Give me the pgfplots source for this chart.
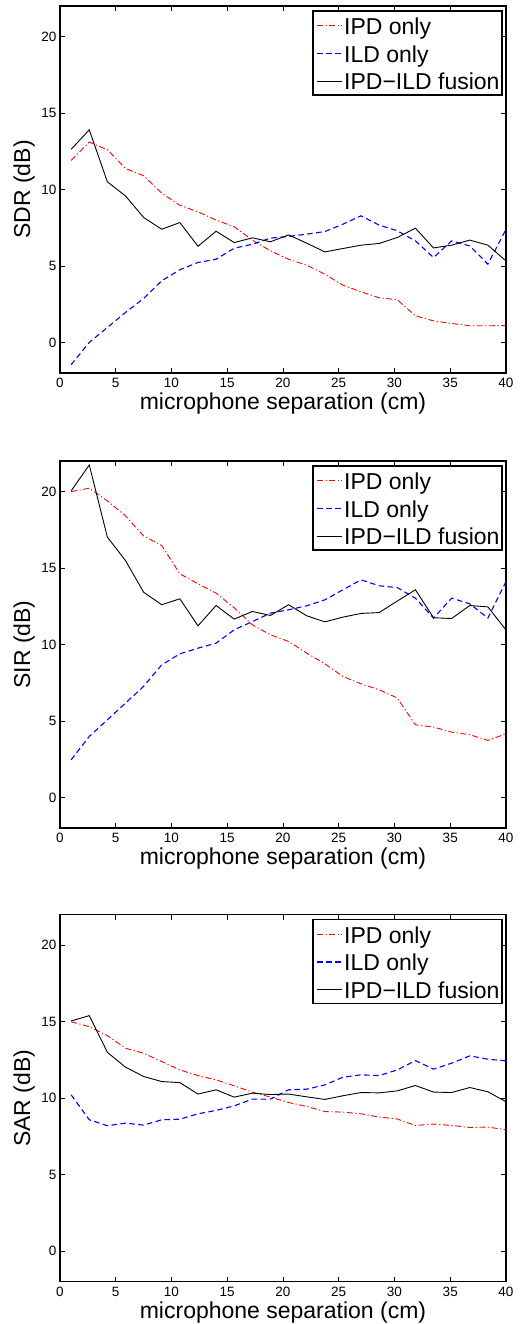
\documentclass[border=0pt]{standalone}
\usepackage{fontspec}
\setmainfont{Liberation Sans}
\usepackage{pgfplots}
\usepackage{pgfplotstable}
\pgfplotsset{compat=1.18}

% x  ipd  ild  fus
\pgfplotstableread{
x ipd ild fus
1 11.9 -1.46 12.63
2.625 13.1 0.0 13.9
4.25 12.6 0.98 10.5
5.875 11.37 1.96 9.58
7.5 10.9 2.87 8.17
9.125 9.76 4.03 7.4
10.75 8.97 4.75 7.84
12.375 8.54 5.23 6.29
14 8.0 5.44 7.27
15.625 7.56 6.16 6.53
17.25 6.69 6.42 6.84
18.875 5.99 6.82 6.58
20.5 5.44 6.93 7.03
22.125 5.05 7.08 6.49
23.75 4.46 7.25 5.92
25.375 3.74 7.73 6.14
27 3.31 8.28 6.36
28.625 2.92 7.67 6.47
30.25 2.79 7.3 6.86
31.875 1.74 6.64 7.47
33.5 1.41 5.55 6.18
35.125 1.24 6.64 6.36
36.75 1.09 6.31 6.69
38.375 1.09 5.12 6.36
40 1.1 7.4 5.33
}\sdr

\pgfplotstableread{
x ipd ild fus
1 20.0 2.46 20.05
2.625 20.22 3.99 21.74
4.25 19.39 5.08 17.02
5.875 18.41 6.17 15.49
7.5 17.1 7.26 13.42
9.125 16.47 8.67 12.6
10.75 14.62 9.39 12.99
12.375 13.97 9.76 11.22
14 13.36 10.09 12.55
15.625 12.4 10.96 11.66
17.25 11.29 11.5 12.16
18.875 10.63 12.05 11.9
20.5 10.2 12.27 12.6
22.125 9.44 12.53 11.88
23.75 8.74 12.92 11.48
25.375 7.91 13.58 11.79
27 7.43 14.23 12.03
28.625 7.04 13.84 12.09
30.25 6.5 13.72 12.84
31.875 4.75 13.03 13.58
33.5 4.6 11.73 11.75
35.125 4.27 13.03 11.7
36.75 4.1 12.66 12.55
38.375 3.73 11.73 12.46
40 4.16 14.12 10.95
}\sir

\pgfplotstableread{
x ipd ild fus
1 15.0 10.22 15.05
2.625 14.68 8.59 15.4
4.25 14.09 8.2 13.0
5.875 13.27 8.37 12.03
7.5 12.94 8.24 11.42
9.125 12.4 8.59 11.09
10.75 11.85 8.63 11.02
12.375 11.48 8.98 10.27
14 11.2 9.2 10.55
15.625 10.81 9.5 10.07
17.25 10.4 9.94 10.33
18.875 10.07 9.94 10.24
20.5 9.72 10.55 10.27
22.125 9.46 10.59 10.09
23.75 9.13 10.87 9.92
25.375 9.09 11.37 10.16
27 8.98 11.53 10.37
28.625 8.77 11.48 10.35
30.25 8.64 11.85 10.48
31.875 8.22 12.46 10.83
33.5 8.31 11.9 10.4
35.125 8.22 12.29 10.37
36.75 8.09 12.77 10.7
38.375 8.11 12.55 10.42
40 7.94 12.44 9.77
}\sar

\tikzset{
  ipdline/.style={draw=red, line width=0.9pt, dash pattern=on 6pt off 2.5pt on 1.2pt off 2.5pt},
  ildline/.style={draw=blue, line width=1.1pt, dash pattern=on 5.5pt off 3.5pt},
  fusline/.style={draw=black, line width=0.9pt},
  legtext/.style={anchor=base west, inner sep=0pt, text=black, font=\fontsize{23}{26}\selectfont},
}

\pgfplotsset{
  sepplot/.style={
    width=446pt, height=367pt, scale only axis,
    xmin=0, xmax=40, ymin=-2, ymax=22,
    xtick={0,5,...,40}, ytick={0,5,...,20},
    tick align=inside, major tick length=5pt,
    tick style={black, line width=0.8pt},
    axis line style={line width=1.2pt},
    /pgf/number format/assume math mode=true,
    tick label style={font=\fontsize{13.5}{15}\selectfont},
    xticklabel style={yshift=-2pt},
    xlabel={microphone separation (cm)},
    label style={font=\fontsize{23}{26}\selectfont},
    xlabel style={at={(axis description cs:0.5,0)}, anchor=north, inner sep=0pt, yshift=-20pt},
    ylabel style={at={(axis description cs:0,0.5)}, anchor=south, inner sep=0pt, yshift=25pt},
  },
}

% legend box; #1 = top right corner of the axis
\newcommand{\seplegend}[1]{%
  \begin{scope}[shift={#1}]
    \draw[draw=black, line width=1.1pt, fill=white] (-193pt,-5pt) rectangle (-4pt,-89pt);
    \draw[ipdline] (-189pt,-19.7pt) -- (-164pt,-19.7pt);
    \draw[ildline] (-189pt,-47.3pt) -- (-164pt,-47.3pt);
    \draw[fusline] (-189pt,-75pt) -- (-164pt,-75pt);
    \node[legtext] at (-162pt,-28.5pt) {IPD only};
    \node[legtext] at (-162pt,-56.1pt) {ILD only};
    \node[legtext] at (-162pt,-83.8pt) {IPD−ILD fusion};
  \end{scope}}

\begin{document}
\begin{tikzpicture}
\useasboundingbox (-60pt,-951pt) rectangle (460pt,373pt);

\seplegend{(446pt,367pt)}
\seplegend{(446pt,-88pt)}
\seplegend{(446pt,-541.7pt)}

\begin{axis}[sepplot, at={(0pt,0pt)}, ylabel={SDR (dB)}]
  \addplot[ipdline] table[x=x, y=ipd] {\sdr};
  \addplot[ildline] table[x=x, y=ild] {\sdr};
  \addplot[fusline] table[x=x, y=fus] {\sdr};
\end{axis}

\begin{axis}[sepplot, at={(0pt,-455pt)}, ylabel={SIR (dB)}]
  \addplot[ipdline] table[x=x, y=ipd] {\sir};
  \addplot[ildline] table[x=x, y=ild] {\sir};
  \addplot[fusline] table[x=x, y=fus] {\sir};
\end{axis}

\begin{axis}[sepplot, at={(0pt,-908.7pt)}, ylabel={SAR (dB)}]
  \addplot[ipdline] table[x=x, y=ipd] {\sar};
  \addplot[ildline] table[x=x, y=ild] {\sar};
  \addplot[fusline] table[x=x, y=fus] {\sar};
\end{axis}
\end{tikzpicture}
\end{document}
